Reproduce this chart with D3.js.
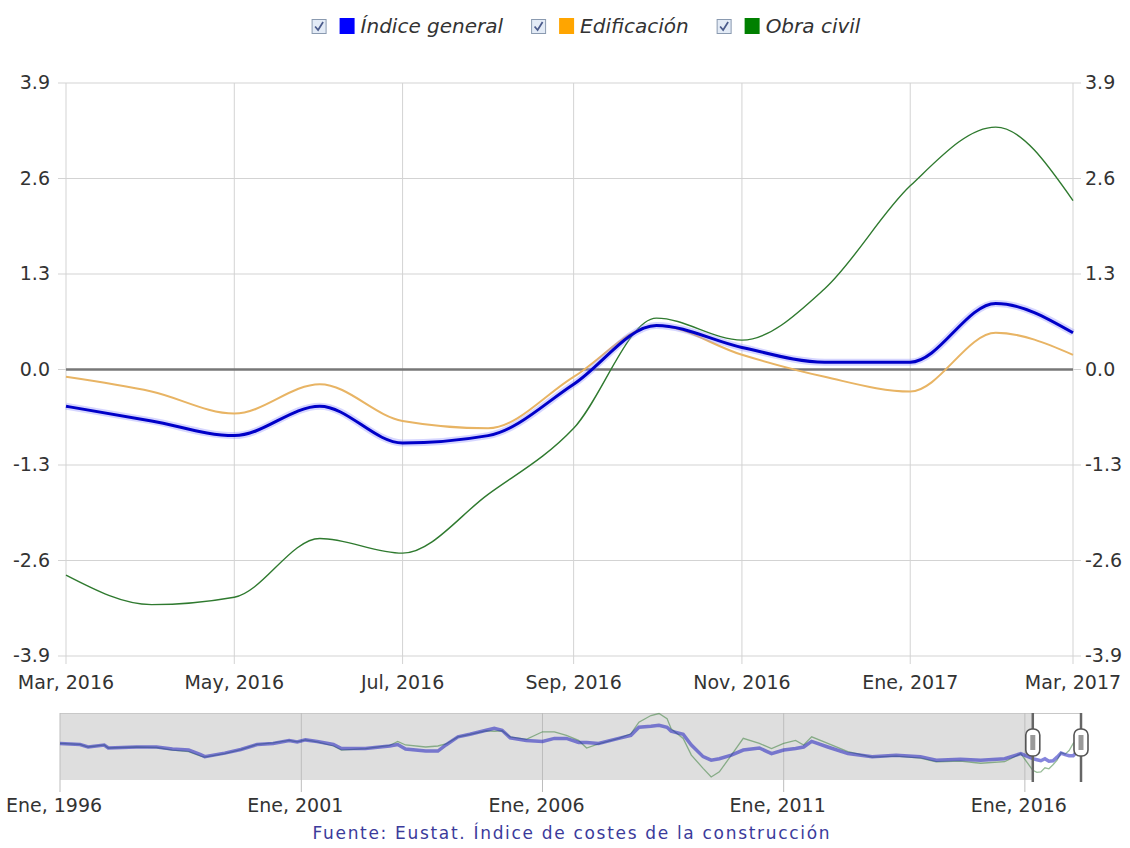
<!DOCTYPE html>
<html>
<head>
<meta charset="utf-8">
<script src="https://cdn.jsdelivr.net/npm/d3@7"></script>
<style>
  body { margin: 0; background: #fff; }
  text { font-family: "DejaVu Sans", Verdana, sans-serif; }
</style>
</head>
<body>
<div id="chart"></div>
<script>
// tasas de variacion, indice de costes de la construccion (Eustat)
const months = ["2016-03","2016-04","2016-05","2016-06","2016-07","2016-08","2016-09",
                "2016-10","2016-11","2016-12","2017-01","2017-02","2017-03"];
const indiceGeneral = [-0.5,-0.7,-0.9,-0.5,-1.0,-0.9,-0.2,0.6,0.3,0.1,0.1,0.9,0.5];
const edificacion   = [-0.1,-0.3,-0.6,-0.2,-0.7,-0.8,-0.1,0.6,0.2,-0.1,-0.3,0.5,0.2];
const obraCivil     = [-2.8,-3.2,-3.1,-2.3,-2.5,-1.7,-0.8,0.7,0.4,1.1,2.5,3.3,2.3];

const seriesNames  = ["Índice general","Edificación","Obra civil"];
const yTicks = [-3.9,-2.6,-1.3,0,1.3,2.6,3.9];
const xTickMonths = ["2016-03","2016-05","2016-07","2016-09","2016-11","2017-01","2017-03"];
const xTickLabels = ["Mar, 2016","May, 2016","Jul, 2016","Sep, 2016","Nov, 2016","Ene, 2017","Mar, 2017"];

// navegador: historico (meses desde Ene 1996), leido a ojo
const navMonthIdx = [0,5,7,11,12,19,24,28,32,35,36,41,45,49,53,57,59,61,64,68,70,76,82,84,86,91,94,96,
                     99,102,106,108,110,112,116,120,123,126,129,131,134,139,142,144,147,149,151,152,155,
                     157,160,162,164,167,170,174,177,180,183,185,187,191,196,202,208,214,218,224,229,235,239];
const navIndice = [2.5,2.3,1.8,2.2,1.6,1.8,1.8,1.4,1.2,0.3,-0.1,0.6,1.3,2.3,2.5,3.1,2.8,3.2,2.9,2.3,1.5,1.5,2.0,2.3,1.4,1.0,1.0,2.2,
                   3.8,4.3,5.1,5.5,5.1,3.6,3.1,2.9,3.5,3.5,2.7,2.7,2.5,3.5,4.1,5.7,5.9,6.1,5.7,4.9,4.3,
                   2.2,-0.1,-0.8,-0.5,0.2,1.2,1.6,0.5,1.2,1.5,1.8,2.9,1.8,0.5,-0.1,0.2,-0.1,-0.8,-0.6,-0.8,-0.5,0.5];
const navObra   = [2.5,2.3,1.8,2.2,1.6,1.8,1.7,1.2,0.9,0.0,-0.2,0.5,1.3,2.3,2.6,3.1,2.8,3.2,2.8,2.0,1.2,1.5,2.1,2.9,2.2,1.8,2.0,2.4,
                   3.8,4.3,5.0,4.9,5.0,3.8,3.3,4.8,4.8,4.1,3.1,1.6,2.4,3.5,4.4,6.7,8.0,8.4,7.4,5.4,3.5,
                   0.2,-2.4,-4.1,-3.1,0.2,3.5,2.5,1.5,2.5,3.1,2.2,3.8,2.5,0.9,-0.2,0.0,-0.4,-1.1,-1.0,-1.4,-1.1,0.5];
const navTickYears = [1996,2001,2006,2011,2016];
const navTickLabels = ["Ene, 1996","Ene, 2001","Ene, 2006","Ene, 2011","Ene, 2016"];

const colors = ["#0000ff","#ffa500","#008000"];
const lineColors = ["#0000c8","#e8b464","#2f7a2f"];

const width = 1130, height = 848;
const parse = d3.timeParse("%Y-%m");
const fmt = d => d.toFixed(1);   // guion normal, no signo menos unicode

const svg = d3.select("#chart").append("svg")
    .attr("width", width).attr("height", height);

// ---- main plot
const x = d3.scaleTime()
    .domain([parse(months[0]), parse(months[months.length-1])])
    .range([66, 1073]);
const y = d3.scaleLinear().domain([-3.9, 3.9]).range([656, 83]);

// gridlines
svg.append("g").selectAll("line").data(yTicks).enter().append("line")
    .attr("x1", 58).attr("x2", 1081)
    .attr("y1", d => y(d)).attr("y2", d => y(d))
    .attr("stroke", "#d3d3d3").attr("stroke-width", 1);
svg.append("g").selectAll("line").data(xTickMonths).enter().append("line")
    .attr("x1", d => x(parse(d))).attr("x2", d => x(parse(d)))
    .attr("y1", 83).attr("y2", 664)
    .attr("stroke", "#d3d3d3").attr("stroke-width", 1);

// y labels both sides
svg.append("g").selectAll("text").data(yTicks).enter().append("text")
    .attr("x", 50).attr("y", d => y(d) + 6)
    .attr("text-anchor", "end").attr("font-size", 19).attr("fill", "#333")
    .text(fmt);
svg.append("g").selectAll("text").data(yTicks).enter().append("text")
    .attr("x", 1085).attr("y", d => y(d) + 6)
    .attr("text-anchor", "start").attr("font-size", 19).attr("fill", "#333")
    .text(fmt);

// x labels
svg.append("g").selectAll("text").data(xTickMonths).enter().append("text")
    .attr("x", d => x(parse(d))).attr("y", 689)
    .attr("text-anchor", "middle").attr("font-size", 19).attr("fill", "#333")
    .text((d, i) => xTickLabels[i]);

// zero line
svg.append("line")
    .attr("x1", 66).attr("x2", 1073).attr("y1", y(0)).attr("y2", y(0))
    .attr("stroke", "#777").attr("stroke-width", 2.5);

const line = d3.line()
    .x((d, i) => x(parse(months[i])))
    .y(d => y(d))
    .curve(d3.curveMonotoneX);

// order: obra civil, edificacion, indice general on top
svg.append("path").attr("d", line(obraCivil))
    .attr("fill", "none").attr("stroke", lineColors[2]).attr("stroke-width", 1.4);
svg.append("path").attr("d", line(edificacion))
    .attr("fill", "none").attr("stroke", lineColors[1]).attr("stroke-width", 2);
svg.append("path").attr("d", line(indiceGeneral))
    .attr("fill", "none").attr("stroke", "#8a8aff").attr("stroke-opacity", 0.35).attr("stroke-width", 7);
svg.append("path").attr("d", line(indiceGeneral))
    .attr("fill", "none").attr("stroke", lineColors[0]).attr("stroke-width", 3);

// ---- legend
const legend = svg.append("g");
let lx = 0;
seriesNames.forEach(function (name, i) {
    const g = legend.append("g").attr("transform", "translate(" + lx + ",19)");
    g.append("rect").attr("x", 0.5).attr("y", 0.5).attr("width", 14).attr("height", 14)
        .attr("fill", "#e3ebf6").attr("stroke", "#8a9ab0");
    g.append("path").attr("d", "M3.5,7.5 L6.5,11 L11.5,3")
        .attr("fill", "none").attr("stroke", "#4b5b8b").attr("stroke-width", 1.7);
    g.append("rect").attr("x", 28).attr("y", -1).attr("width", 15).attr("height", 16)
        .attr("fill", colors[i]);
    const t = g.append("text").attr("x", 49).attr("y", 14)
        .attr("font-size", 20).attr("font-style", "italic").attr("fill", "#333")
        .text(name);
    lx += 49 + t.node().getComputedTextLength() + (i < seriesNames.length - 1 ? 28 : 0);
});
legend.attr("transform", "translate(" + (586 - lx / 2) + ",0)");

// ---- navigator
const navTop = 713, navBottom = 780;
const xNav = d3.scaleTime()
    .domain([new Date(1996, 0, 1), parse(months[months.length-1])])
    .range([60, 1081]);
const yNav = d3.scaleLinear().domain([-4.7, 8.5]).range([navBottom, navTop]);
const selStart = xNav(parse(months[0])), selEnd = xNav(parse(months[months.length-1]));

svg.append("rect").attr("x", 60).attr("y", navTop).attr("width", selStart - 60).attr("height", navBottom - navTop)
    .attr("fill", "#dedede");
svg.append("line").attr("x1", 60).attr("x2", 1081).attr("y1", navTop + 0.5).attr("y2", navTop + 0.5)
    .attr("stroke", "#c8c8c8");

svg.append("g").selectAll("line").data(navTickYears).enter().append("line")
    .attr("x1", d => xNav(new Date(d, 0, 1))).attr("x2", d => xNav(new Date(d, 0, 1)))
    .attr("y1", navTop).attr("y2", 792)
    .attr("stroke", "#bdbdbd").attr("stroke-width", 1);

const navIdxDates = navMonthIdx.map(m => new Date(1996, m, 1));
const navBlue = navIdxDates.map((d, i) => [d, navIndice[i]])
    .concat(months.map((m, i) => [parse(m), indiceGeneral[i]]));
const navGreen = navIdxDates.map((d, i) => [d, navObra[i]])
    .concat(months.map((m, i) => [parse(m), obraCivil[i]]));

const navLine = d3.line().x(d => xNav(d[0])).y(d => yNav(d[1]));
svg.append("path").attr("d", navLine(navGreen))
    .attr("fill", "none").attr("stroke", "#2f7a2f").attr("stroke-opacity", 0.5).attr("stroke-width", 1.3);
svg.append("path").attr("d", navLine(navBlue))
    .attr("fill", "none").attr("stroke", "#2020c0").attr("stroke-opacity", 0.55).attr("stroke-width", 3.5);

// handles
[selStart, selEnd].forEach(function (hx) {
    svg.append("line").attr("x1", hx).attr("x2", hx).attr("y1", navTop).attr("y2", 782)
        .attr("stroke", "#666").attr("stroke-width", 2.5);
    svg.append("rect").attr("x", hx - 7).attr("y", 729).attr("width", 14).attr("height", 27)
        .attr("rx", 6).attr("fill", "#fff").attr("stroke", "#555").attr("stroke-width", 1.6);
    svg.append("rect").attr("x", hx - 2.5).attr("y", 735).attr("width", 5).attr("height", 15)
        .attr("fill", "#999");
});

svg.append("g").selectAll("text").data(navTickYears).enter().append("text")
    .attr("x", d => xNav(new Date(d, 0, 1)) - 6).attr("y", 812)
    .attr("text-anchor", "middle").attr("font-size", 19).attr("fill", "#333")
    .text((d, i) => navTickLabels[i]);

// source
svg.append("text")
    .attr("x", 571).attr("y", 839)
    .attr("text-anchor", "middle").attr("font-size", 17).attr("fill", "#3b3b9b")
    .attr("textLength", 517).attr("lengthAdjust", "spacing")
    .text("Fuente: Eustat. Índice de costes de la construcción");
</script>
</body>
</html>
